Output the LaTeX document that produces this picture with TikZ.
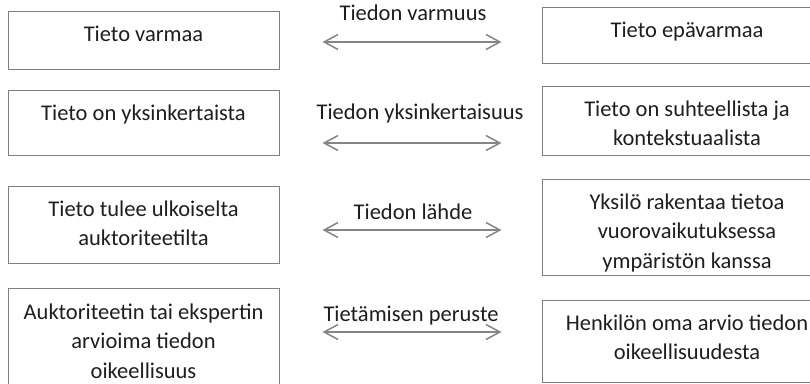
\documentclass[tikz,border=0pt]{standalone}
\usepackage{fontspec}
\setmainfont{Carlito}
\usepackage{tikz}
\usetikzlibrary{positioning}
\usetikzlibrary{arrows.meta}
\definecolor{edgegray}{HTML}{7F7F7F}
\definecolor{arrgray}{HTML}{858585}
\definecolor{txtgray}{HTML}{1E1E1E}
\tikzset{
  box/.style={draw=edgegray, line width=1pt, rectangle, inner sep=0pt},
  boxtext/.style={align=center, inner sep=0pt, text=txtgray,
    font=\fontsize{22.5}{29.5}\selectfont},
  lbl/.style={inner sep=0pt, text=txtgray, text height=15pt, text depth=5pt,
    font=\fontsize{22.5}{29.5}\selectfont},
  pair/.style={draw=arrgray, line width=1.5pt,
    {Straight Barb[length=14pt, width=15pt]}-{Straight Barb[length=14pt, width=15pt]},
    shorten <=43pt, shorten >=40pt}
}
\begin{document}
\begin{tikzpicture}[x=1pt, y=-1pt]
        \useasboundingbox (0,0) rectangle (810,383);
        \clip (0,0) rectangle (810,383);
        % row 1
        \node[box, minimum width=271pt, minimum height=58pt] (l1) at (143.5,40) {};
        \node[box, minimum width=290pt, minimum height=56pt] (r1) at (687,35) {};
        \node[boxtext, below=15pt of l1.north] (tl1) {Tieto varmaa};
        \node[boxtext, below=15pt of r1.north] (tr1) {Tieto epävarmaa};
        \coordinate (m1) at (413,42);
        \node[lbl] (n1) at (413,15) {Tiedon varmuus};
        \draw[pair] (l1.east |- m1) -- (r1.west |- m1);
        % row 2
        \node[box, minimum width=271pt, minimum height=65pt] (l2) at (143.5,122.5) {};
        \node[box, minimum width=290pt, minimum height=69pt] (r2) at (687,120.5) {};
        \node[boxtext, below=15pt of l2.north] (tl2) {Tieto on yksinkertaista};
        \node[boxtext, below=15pt of r2.north] (tr2) {Tieto on suhteellista ja\\kontekstuaalista};
        \coordinate (m2) at (413,143);
        \node[lbl] (n2) at (420,114) {Tiedon yksinkertaisuus};
        \draw[pair] (l2.east |- m2) -- (r2.west |- m2);
        % row 3
        \node[box, minimum width=271pt, minimum height=77pt] (l3) at (143.5,224.5) {};
        \node[box, minimum width=290pt, minimum height=96pt] (r3) at (687,227) {};
        \node[boxtext, below=15pt of l3.north] (tl3) {Tieto tulee ulkoiselta\\auktoriteetilta};
        \node[boxtext, below=15pt of r3.north] (tr3) {Yksilö rakentaa tietoa\\vuorovaikutuksessa\\ympäristön kanssa};
        \coordinate (m3) at (413,230);
        \node[lbl] (n3) at (413,214) {Tiedon lähde};
        \draw[pair] (l3.east |- m3) -- (r3.west |- m3);
        % row 4
        \node[box, minimum width=271pt, minimum height=120pt] (l4) at (143.5,348) {};
        \node[box, minimum width=290pt, minimum height=82pt] (r4) at (687,341) {};
        \node[boxtext, below=16pt of l4.north] (tl4) {Auktoriteetin tai ekspertin\\arvioima tiedon\\oikeellisuus};
        \node[boxtext, below=15pt of r4.north] (tr4) {Henkilön oma arvio tiedon\\oikeellisuudesta};
        \coordinate (m4) at (413,332);
        \node[lbl] (n4) at (411,316) {Tietämisen peruste};
        \draw[pair] (l4.east |- m4) -- (r4.west |- m4);
\end{tikzpicture}
\end{document}
